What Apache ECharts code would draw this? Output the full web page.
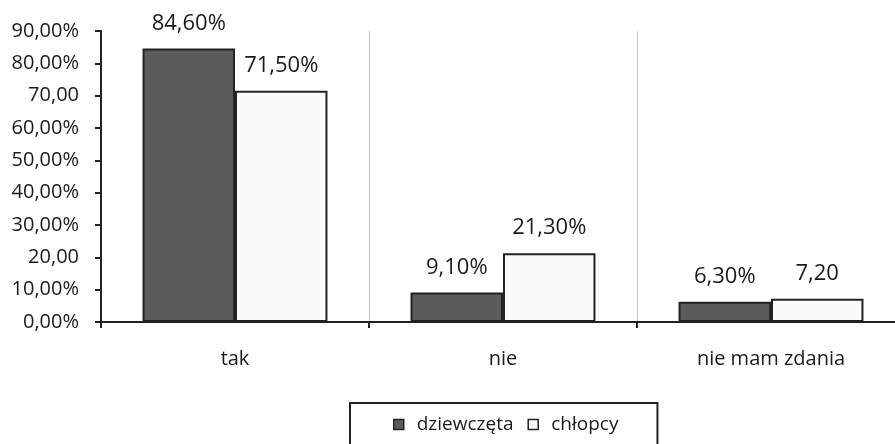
<!DOCTYPE html>
<html>
<head>
<meta charset="utf-8">
<script src="https://cdn.jsdelivr.net/npm/echarts@6/dist/echarts.min.js"></script>
<style>
  html, body { margin: 0; padding: 0; background: #ffffff; overflow: hidden; }
  /* the plot runs a little past the right edge of the window, as in the source */
  #chart { width: 910px; height: 444px; }
</style>
</head>
<body>
<div id="chart"></div>
<script>
// answers and the two groups
const categories = ['tak', 'nie', 'nie mam zdania'];
const seriesNames = ['dziewczęta', 'chłopcy'];
const girls = [84.6, 9.1, 6.3];
const boys = [71.5, 21.3, 7.2];
// labels as printed in the source (some have no % sign)
const girlsLabels = ['84,60%', '9,10%', '6,30%'];
const boysLabels = ['71,50%', '21,30%', '7,20'];
const yTickLabels = ['0,00%', '10,00%', '20,00', '30,00%', '40,00%', '50,00%',
                     '60,00%', '70,00', '80,00%', '90,00%'];

const FONT = 'Open Sans';
const TEXT = '#1a1a1a';

const chart = echarts.init(document.getElementById('chart'), null, { renderer: 'canvas' });

function barSeries(name, values, labels, color) {
  return {
    name,
    type: 'bar',
    data: values,
    barGap: '0%',
    barCategoryGap: '31%',
    itemStyle: { color, borderColor: '#222222', borderWidth: 2 },
    label: {
      show: true,
      position: 'top',
      distance: 14,
      fontFamily: FONT,
      fontSize: 22,
      color: TEXT,
      formatter: (p) => labels[p.dataIndex]
    },
    emphasis: { disabled: true }
  };
}

chart.setOption({
  animation: false,
  backgroundColor: '#ffffff',
  grid: { left: 101, right: 5, top: 31, bottom: 122, containLabel: false },
  legend: {
    data: seriesNames,
    left: 350,
    top: 403,
    padding: [12, 39, 24, 43],
    borderColor: '#222222',
    borderWidth: 2,
    itemWidth: 10,
    itemHeight: 10,
    itemGap: 14,
    icon: 'rect',
    itemStyle: { borderColor: '#222222', borderWidth: 1.5 },
    textStyle: { fontFamily: FONT, fontSize: 19, color: TEXT, padding: [0, 0, 0, 8] }
  },
  xAxis: {
    type: 'category',
    data: categories,
    axisLine: { lineStyle: { color: '#222222', width: 2 } },
    axisTick: { show: true, length: 6, inside: false, lineStyle: { color: '#222222', width: 2 } },
    splitLine: { show: true, lineStyle: { color: '#c4c4c4', width: 1 } },
    axisLabel: { fontFamily: FONT, fontSize: 20, color: TEXT, margin: 27 }
  },
  yAxis: {
    type: 'value',
    min: 0,
    max: 90,
    interval: 10,
    axisLine: { show: true, lineStyle: { color: '#222222', width: 2 } },
    axisTick: { show: true, length: 6, lineStyle: { color: '#222222', width: 2 } },
    splitLine: { show: false },
    axisLabel: {
      fontFamily: FONT,
      fontSize: 20,
      color: TEXT,
      margin: 22,
      formatter: (v) => yTickLabels[Math.round(v / 10)]
    }
  },
  series: [
    barSeries(seriesNames[0], girls, girlsLabels, '#5b5b5b'),
    barSeries(seriesNames[1], boys, boysLabels, '#fafafa')
  ]
});
</script>
</body>
</html>
